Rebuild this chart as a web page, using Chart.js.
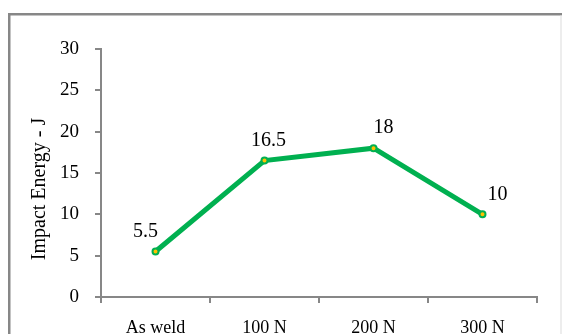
<!DOCTYPE html>
<html>
<head>
<meta charset="utf-8">
<script src="https://cdn.jsdelivr.net/npm/chart.js@4"></script>
<style>
  html, body { margin: 0; padding: 0; background: #ffffff; }
  #wrap { position: relative; width: 562px; height: 334px; overflow: hidden; }
  canvas { display: block; }
</style>
</head>
<body>
<div id="wrap"><canvas id="c" width="562" height="334"></canvas></div>
<script>
// Impact energy by welding condition
const categories = ['As weld', '100 N', '200 N', '300 N'];
const impactEnergy = [5.5, 16.5, 18, 10];
const yTicks = { min: 0, max: 30, step: 5 };
const yAxisTitle = 'Impact Energy - J';

const SERIF = '"Liberation Serif", "Times New Roman", serif';
const AXIS_GRAY = '#878787';
const LINE_GREEN = '#00b050';
const MARKER_GOLD = '#ffc000';

// horizontal nudge of each value label relative to its point
const labelShift = [-10, 4, 10, 15];

const framePlugin = {
  id: 'frame',
  beforeDraw(chart) {
    const ctx = chart.ctx;
    ctx.save();
    ctx.fillStyle = '#ffffff';
    ctx.fillRect(0, 0, chart.width, chart.height);
    ctx.fillStyle = AXIS_GRAY;
    ctx.fillRect(8, 13, chart.width - 8, 2.5);
    ctx.fillRect(8, 13, 2.5, chart.height - 13);
    ctx.fillStyle = '#dcdcdc';
    ctx.fillRect(chart.width - 1.5, 15, 1, chart.height - 15);
    ctx.restore();
  },
  afterDraw(chart) {
    const ctx = chart.ctx;
    ctx.save();
    ctx.fillStyle = '#000000';
    ctx.font = '20px ' + SERIF;
    ctx.textAlign = 'center';
    ctx.textBaseline = 'middle';
    ctx.translate(40, 189);
    ctx.rotate(-Math.PI / 2);
    ctx.fillText(yAxisTitle, 0, 0);
    ctx.restore();
  }
};

const valueLabels = {
  id: 'valueLabels',
  afterDatasetsDraw(chart) {
    const ctx = chart.ctx;
    const meta = chart.getDatasetMeta(0);
    const data = chart.data.datasets[0].data;
    ctx.save();
    ctx.fillStyle = '#000000';
    ctx.font = '20px ' + SERIF;
    ctx.textAlign = 'center';
    ctx.textBaseline = 'middle';
    meta.data.forEach((pt, i) => {
      ctx.fillText(String(data[i]), pt.x + labelShift[i], pt.y - 20);
    });
    ctx.restore();
  }
};

new Chart(document.getElementById('c'), {
  type: 'line',
  data: {
    labels: categories,
    datasets: [{
      data: impactEnergy,
      borderColor: LINE_GREEN,
      borderWidth: 5,
      pointRadius: 3,
      pointBackgroundColor: MARKER_GOLD,
      pointBorderColor: LINE_GREEN,
      pointBorderWidth: 2,
      tension: 0,
      clip: false
    }]
  },
  options: {
    responsive: false,
    animation: false,
    events: [],
    layout: { padding: { left: 0, right: 25, top: 49, bottom: 0 } },
    plugins: {
      legend: { display: false },
      tooltip: { enabled: false }
    },
    scales: {
      x: {
        type: 'category',
        offset: true,
        grid: {
          offset: true,
          drawOnChartArea: false,
          drawTicks: true,
          tickLength: 6,
          color: AXIS_GRAY,
          lineWidth: 2
        },
        border: { display: true, color: AXIS_GRAY, width: 2 },
        ticks: {
          color: '#000000',
          font: { family: SERIF, size: 18 },
          padding: 14,
          maxRotation: 0,
          autoSkip: false
        },
        afterFit(scale) { scale.height = 37; }
      },
      y: {
        min: yTicks.min,
        max: yTicks.max,
        grid: {
          drawOnChartArea: false,
          drawTicks: true,
          tickLength: 6,
          color: AXIS_GRAY,
          lineWidth: 2
        },
        border: { display: true, color: AXIS_GRAY, width: 2 },
        ticks: {
          stepSize: yTicks.step,
          color: '#000000',
          font: { family: SERIF, size: 19 },
          padding: 16
        },
        afterFit(scale) { scale.width = 101; }
      }
    }
  },
  plugins: [framePlugin, valueLabels]
});
</script>
</body>
</html>
